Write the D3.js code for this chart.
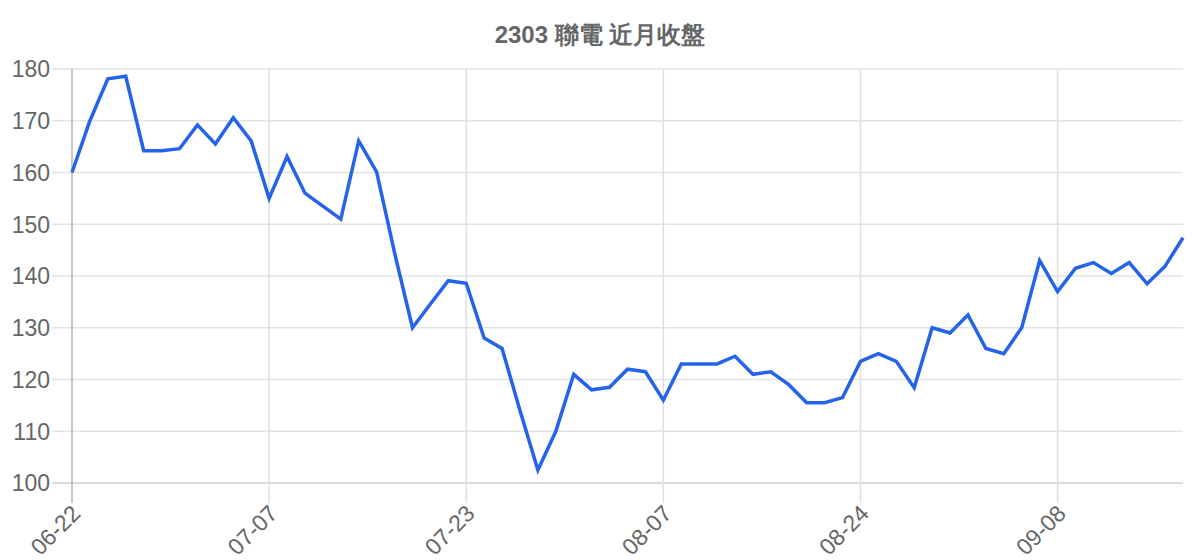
<!DOCTYPE html>
<html>
<head>
<meta charset="utf-8">
<script src="https://cdn.jsdelivr.net/npm/d3@7"></script>
<style>
	body { margin:0; background:#fff; }
	svg { display:block; font-family:"Liberation Sans", Arial, sans-serif; }
</style>
</head>
<body>
<svg id="chart" width="1200" height="560"></svg>
<script>
	var title = "2303 聯電 近月收盤";
	var dates = [
		"06-22","06-23","06-26","06-27","06-28","06-29","06-30","07-03","07-04","07-05","07-06",
		"07-07","07-10","07-11","07-12","07-13","07-14","07-17","07-18","07-19","07-20","07-21",
		"07-23","07-24","07-25","07-26","07-27","07-28","07-31","08-01","08-02","08-03","08-04",
		"08-07","08-08","08-09","08-10","08-11","08-14","08-15","08-16","08-17","08-18","08-21",
		"08-24","08-25","08-28","08-29","08-30","08-31","09-01","09-04","09-05","09-06","09-07",
		"09-08","09-11","09-12","09-13","09-14","09-15","09-18","09-19"
	];
	var closes = [
		160,170,178.1,178.6,164.2,164.2,164.6,169.2,165.5,170.6,166.1,
		155,163.1,156,153.5,151,166.1,160.1,144.5,130,134.6,139.1,
		138.6,128,126,114,102.5,110,121,118,118.5,122,121.5,
		116,123,123,123,124.5,121,121.5,119,115.5,115.5,116.5,
		123.5,125,123.5,118.4,130,129,132.5,126,125,130,143,
		137,141.5,142.6,140.5,142.6,138.5,141.9,147.4
	];
	var tickDates = ["06-22","07-07","07-23","08-07","08-24","09-08"];
	var yTicks = [100,110,120,130,140,150,160,170,180];

	var svg = d3.select("#chart");
	var plotLeft = 72, plotRight = 1183, plotTop = 69, plotBottom = 483;

	var scaleX = d3.scalePoint().domain(dates).range([plotLeft,plotRight]);
	var scaleY = d3.scaleLinear().domain([100,180]).range([plotBottom,plotTop]);

	// title
	svg.append("text")
		.attr("x",600).attr("y",43)
		.attr("text-anchor","middle")
		.attr("font-size",24).attr("font-weight","bold")
		.attr("fill","#666")
		.text(title);

	// horizontal grid + y labels
	svg.append("g").selectAll("line").data(yTicks).enter().append("line")
		.attr("x1",plotLeft-20).attr("x2",plotRight)
		.attr("y1",function(d){return scaleY(d)}).attr("y2",function(d){return scaleY(d)})
		.attr("stroke",function(d){return d==100?"#cfcfcf":"#e4e4e4"})
		.attr("stroke-width",1.5);
	svg.append("g").selectAll("text").data(yTicks).enter().append("text")
		.attr("x",50).attr("y",function(d){return scaleY(d)})
		.attr("dy","0.36em")
		.attr("text-anchor","end")
		.attr("font-size",23).attr("fill","#666")
		.text(function(d){return d});

	// vertical grid at tick dates
	svg.append("g").selectAll("line").data(tickDates).enter().append("line")
		.attr("x1",function(d){return scaleX(d)}).attr("x2",function(d){return scaleX(d)})
		.attr("y1",plotTop).attr("y2",plotBottom+20)
		.attr("stroke",function(d,i){return i==0?"#b5b5b5":"#e0e0e0"})
		.attr("stroke-width",1.5);
	svg.append("g").selectAll("text").data(tickDates).enter().append("text")
		.attr("transform",function(d){return "translate("+(scaleX(d)+4)+","+(plotBottom+26)+") rotate(-45)"})
		.attr("text-anchor","end")
		.attr("dy","0.36em")
		.attr("font-size",23).attr("fill","#666")
		.text(function(d){return d});

	// line
	var line = d3.line()
		.x(function(d,i){return scaleX(dates[i])})
		.y(function(d){return scaleY(d)});
	svg.append("path")
		.datum(closes)
		.attr("d",line)
		.attr("fill","none")
		.attr("stroke","#2563eb")
		.attr("stroke-width",3.5)
		.attr("stroke-linejoin","miter");
</script>
</body>
</html>
